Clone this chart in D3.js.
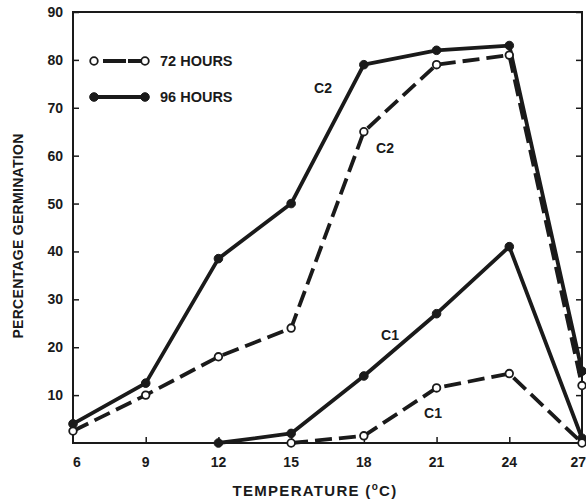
<!DOCTYPE html>
<html>
<head>
<meta charset="utf-8">
<script src="https://cdn.jsdelivr.net/npm/d3@7"></script>
<style>
  body { margin: 0; background: #fff; }
  text { font-family: "Liberation Sans", Arial, sans-serif; font-weight: bold; fill: #1a1a1a; }
</style>
</head>
<body>
<div id="chart"></div>
<script>
// temperature (deg C) and percentage germination
var temps = [6, 9, 12, 15, 18, 21, 24, 27];
var c2_96 = [4, 12.5, 38.5, 50, 79, 82, 83, 15];
var c2_72 = [2.5, 10, 18, 24, 65, 79, 81, 12];
var c1_96 = [null, null, 0, 2, 14, 27, 41, 1];
var c1_72 = [null, null, null, 0, 1.5, 11.5, 14.5, 0];
var yTicks = [10, 20, 30, 40, 50, 60, 70, 80, 90];

var series = [
    {name: "c2_96", values: c2_96, dashed: false},
    {name: "c2_72", values: c2_72, dashed: true},
    {name: "c1_96", values: c1_96, dashed: false},
    {name: "c1_72", values: c1_72, dashed: true}
];

var ink = "#1a1a1a";
var svg = d3.select("#chart")
    .append("svg")
    .attr("width", 586)
    .attr("height", 501);

var x = d3.scaleLinear().domain([6, 27]).range([73, 582]);
var y = d3.scaleLinear().domain([0, 90]).range([443, 12]);

// frame
svg.append("rect")
    .attr("x", x(6)).attr("y", y(90))
    .attr("width", x(27) - x(6)).attr("height", y(0) - y(90))
    .attr("fill", "none").attr("stroke", ink).attr("stroke-width", 2);

// left and right axes, ticks pointing inward
var yLeft = svg.append("g")
    .attr("transform", "translate(" + x(6) + ",0)")
    .call(d3.axisRight(y).tickValues(yTicks).tickSize(6).tickFormat(""));
yLeft.select(".domain").remove();
yLeft.selectAll("line").attr("stroke", ink).attr("stroke-width", 1.5);

var yRight = svg.append("g")
    .attr("transform", "translate(" + x(27) + ",0)")
    .call(d3.axisLeft(y).tickValues(yTicks).tickSize(6).tickFormat(""));
yRight.select(".domain").remove();
yRight.selectAll("line").attr("stroke", ink).attr("stroke-width", 1.5);

svg.selectAll(".ylab")
    .data(yTicks)
    .enter()
    .append("text")
    .attr("x", 63)
    .attr("y", function (d) { return y(d) + 5; })
    .attr("text-anchor", "end")
    .style("font-size", "14px")
    .text(function (d) { return d; });

// bottom axis
var xAxis = svg.append("g")
    .attr("transform", "translate(0," + y(0) + ")")
    .call(d3.axisTop(x).tickValues(temps.slice(1, -1)).tickSize(6).tickFormat(""));
xAxis.select(".domain").remove();
xAxis.selectAll("line").attr("stroke", ink).attr("stroke-width", 1.5);

svg.selectAll(".xlab")
    .data(temps)
    .enter()
    .append("text")
    .attr("x", function (d) {
        if (d === 6) { return x(d) + 4; }
        if (d === 27) { return 586; }
        return x(d);
    })
    .attr("y", 467)
    .attr("text-anchor", function (d) { return d === 27 ? "end" : "middle"; })
    .style("font-size", "14px")
    .text(function (d) { return d; });

// axis titles
var xt = svg.append("text")
    .attr("x", 315)
    .attr("y", 496)
    .attr("text-anchor", "middle")
    .style("font-size", "15px")
    .style("letter-spacing", "1.3px");
xt.append("tspan").text("TEMPERATURE (");
xt.append("tspan").attr("dy", -6).style("font-size", "10px").text("o");
xt.append("tspan").attr("dy", 6).text("C)");

svg.append("text")
    .attr("transform", "translate(23,236) rotate(-90)")
    .attr("text-anchor", "middle")
    .style("font-size", "14px")
    .style("letter-spacing", "0.3px")
    .text("PERCENTAGE GERMINATION");

// lines
var line = d3.line()
    .defined(function (d) { return d.v !== null; })
    .x(function (d) { return x(d.t); })
    .y(function (d) { return y(d.v); });

series.forEach(function (s) {
    var pts = temps.map(function (t, i) { return {t: t, v: s.values[i]}; });
    svg.append("path")
        .datum(pts)
        .attr("d", line)
        .attr("fill", "none")
        .attr("stroke", ink)
        .attr("stroke-width", 3.8)
        .attr("stroke-linejoin", "round")
        .attr("stroke-dasharray", s.dashed ? "17,7" : null);
    svg.selectAll(".pt_" + s.name)
        .data(pts.filter(function (d) { return d.v !== null; }))
        .enter()
        .append("circle")
        .attr("cx", function (d) { return x(d.t); })
        .attr("cy", function (d) { return y(d.v); })
        .attr("r", s.dashed ? 3.8 : 4.3)
        .attr("fill", s.dashed ? "#fff" : ink)
        .attr("stroke", ink)
        .attr("stroke-width", s.dashed ? 1.8 : 1);
});

// curve labels
var curveLabels = [
    {text: "C2", x: 323, y: 93},
    {text: "C2", x: 385, y: 153},
    {text: "C1", x: 390, y: 340},
    {text: "C1", x: 433, y: 418}
];
svg.selectAll(".clab")
    .data(curveLabels)
    .enter()
    .append("text")
    .attr("x", function (d) { return d.x; })
    .attr("y", function (d) { return d.y; })
    .attr("text-anchor", "middle")
    .style("font-size", "14px")
    .text(function (d) { return d.text; });

// legend
var legend = [
    {label: "72 HOURS", dashed: true, y: 61},
    {label: "96 HOURS", dashed: false, y: 97}
];
legend.forEach(function (l) {
    svg.append("line")
        .attr("x1", 94).attr("x2", 145)
        .attr("y1", l.y).attr("y2", l.y)
        .attr("stroke", ink).attr("stroke-width", 3.8)
        .attr("stroke-dasharray", l.dashed ? "0,9,23,2,40" : null);
    [94, 145].forEach(function (cx) {
        svg.append("circle")
            .attr("cx", cx).attr("cy", l.y)
            .attr("r", l.dashed ? 3.8 : 4.3)
            .attr("fill", l.dashed ? "#fff" : ink)
            .attr("stroke", ink)
            .attr("stroke-width", l.dashed ? 1.8 : 1);
    });
    svg.append("text")
        .attr("x", 160)
        .attr("y", l.y + 5)
        .style("font-size", "14.5px")
        .text(l.label);
});
</script>
</body>
</html>
